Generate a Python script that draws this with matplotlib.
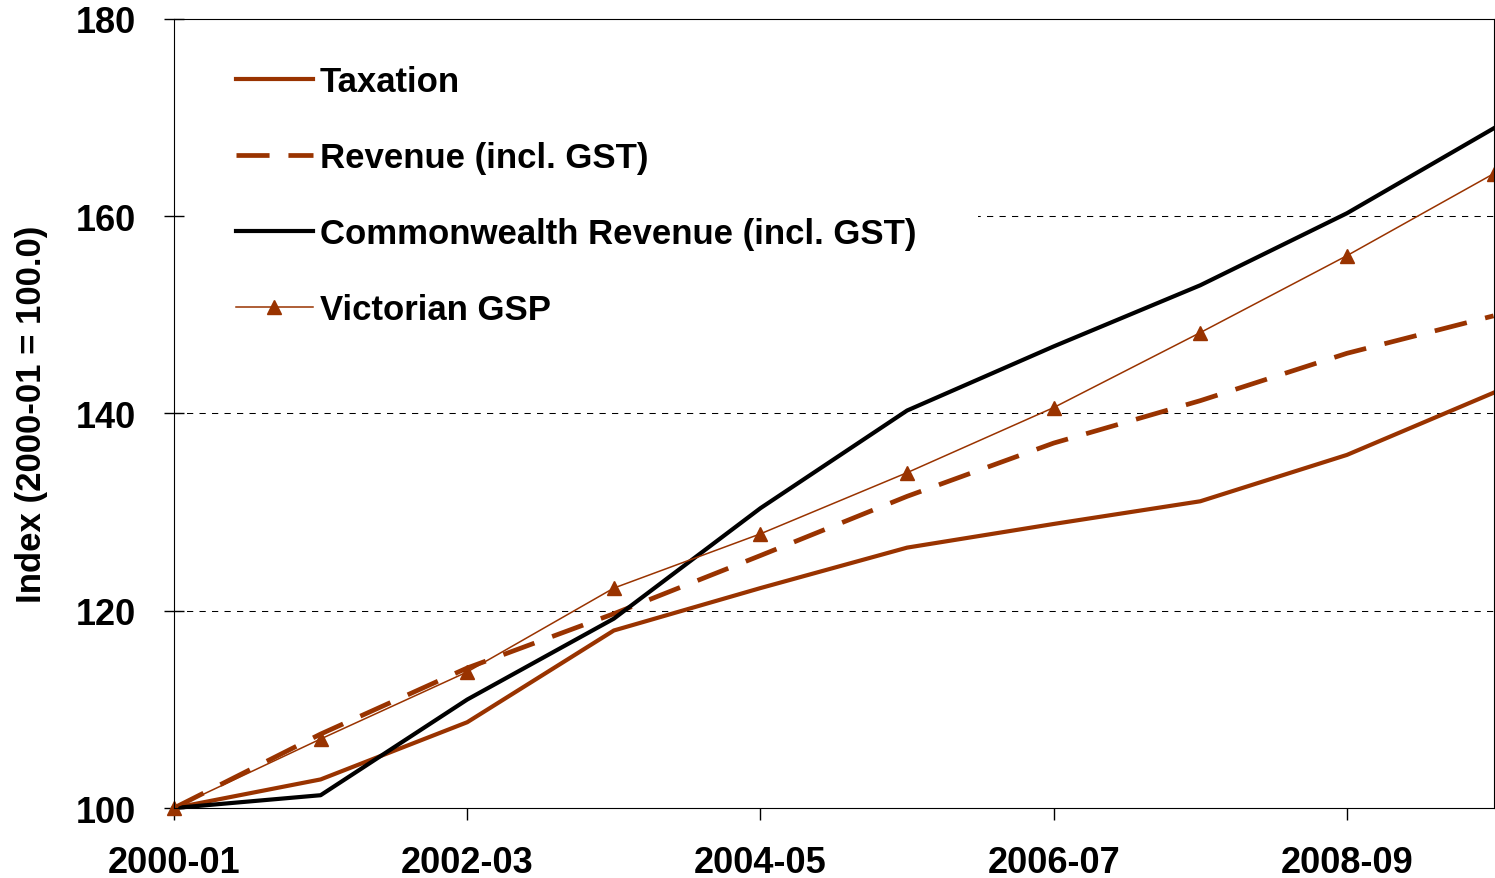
import numpy as np
import matplotlib
matplotlib.use("Agg")
import matplotlib.pyplot as plt

plt.rcParams['font.family'] = ['Liberation Sans', 'DejaVu Sans']
plt.rcParams['font.weight'] = 'bold'

years = ['2000-01', '2001-02', '2002-03', '2003-04', '2004-05',
         '2005-06', '2006-07', '2007-08', '2008-09', '2009-10']
taxation = [100.0, 102.9, 108.7, 118.0, 122.3, 126.4, 128.8, 131.1, 135.8, 142.1]
revenue = [100.0, 107.5, 114.2, 119.7, 125.6, 131.6, 137.0, 141.3, 146.1, 149.9]
cwlth_revenue = [100.0, 101.3, 111.0, 119.2, 130.4, 140.3, 146.8, 153.0, 160.3, 168.9]
vic_gsp = [100.0, 107.0, 113.8, 122.3, 127.8, 134.0, 140.6, 148.2, 156.0, 164.3]

rust = '#993300'
x = np.arange(len(years))

fig = plt.figure(figsize=(14.95, 8.79), dpi=100)
ax = fig.add_axes([0.1164, 0.0796, 0.8826, 0.8977])

ax.plot(x, taxation, color=rust, lw=3.0, label='Taxation', clip_on=False)
ax.plot(x, revenue, color=rust, lw=3.4, dashes=(7, 4), label='Revenue (incl. GST)', clip_on=False)
ax.plot(x, cwlth_revenue, color='black', lw=3.0, label='Commonwealth Revenue (incl. GST)', clip_on=False)
ax.plot(x, vic_gsp, color=rust, lw=1.1, marker='^', ms=10, label='Victorian GSP', clip_on=False)

ax.set_xlim(0, 9)
ax.set_ylim(100, 180)
ax.set_yticks([100, 120, 140, 160, 180])
ax.set_xticks(x[::2])
ax.set_xticklabels(years[::2])
ax.tick_params(axis='both', labelsize=26, width=1)
ax.tick_params(axis='x', direction='out', length=8.6, pad=18)
ax.tick_params(axis='y', direction='inout', length=13.7, pad=20.7)
for lbl in ax.get_xticklabels() + ax.get_yticklabels():
    lbl.set_fontweight('bold')

# dashed gridlines, legend box hides them under the legend
for yv in [120, 140, 160]:
    ax.axhline(yv, color='black', lw=0.75, ls=(0, (6, 6)), zorder=0)

ax.set_ylabel('Index (2000-01 = 100.0)', fontsize=25, fontweight='bold', labelpad=20)

leg = ax.legend(loc='upper left', bbox_to_anchor=(0.0, 1.020), fontsize=25,
                frameon=True, framealpha=1, facecolor='white', edgecolor='none',
                fancybox=False, handlelength=2.2, handletextpad=0.2,
                labelspacing=1.24, borderpad=1.79, borderaxespad=0.0)
for t in leg.get_texts():
    t.set_fontweight('bold')
leg.set_zorder(1)

fig.savefig('out.png', dpi=100)
